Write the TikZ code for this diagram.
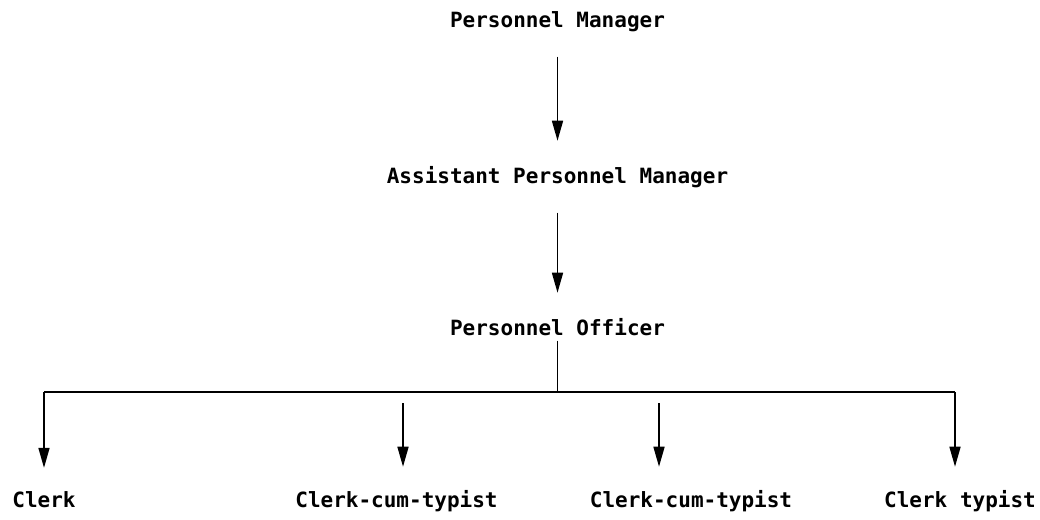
\documentclass[tikz,border=0pt]{standalone}
\usepackage{fontspec}
\newfontfamily\dmono{DejaVu Sans Mono}
\usetikzlibrary{arrows.meta}
\begin{document}
\begin{tikzpicture}[x=1pt,y=-1pt,
  lbl/.style={inner sep=0pt, anchor=base, font=\dmono\bfseries\fontsize{21}{24}\selectfont},
  conn/.style={line width=1.6pt, black},
  arr/.style={conn, -{Triangle[length=20pt,width=11pt]}}]
\useasboundingbox (0,0) rectangle (1040,519);
\node[lbl] (pm)  at (557.5,28)  {Personnel Manager};
\node[lbl] (apm) at (557.5,183) {Assistant Personnel Manager};
\node[lbl] (po)  at (557.5,335) {Personnel Officer};
\node[lbl] (cl)  at (44,507)    {Clerk};
\node[lbl] (c1)  at (396.5,507) {Clerk-cum-typist};
\node[lbl] (c2)  at (691,507)   {Clerk-cum-typist};
\node[lbl] (ct)  at (960,507)   {Clerk typist};
\coordinate (j) at (557.5,392);
\coordinate (lft) at (44,392);
\coordinate (rgt) at (955,392);
\coordinate (s1) at (403,403);
\coordinate (s2) at (659,403);
\draw[arr, shorten <=24pt, shorten >=25pt] (pm.south) -- (apm.north);
\draw[arr, shorten <=25pt, shorten >=25pt] (apm.south) -- (po.north);
\draw[conn, shorten <=5pt] (po.south) -- (j);
\draw[conn, line width=2pt] (lft) -- (rgt);
\draw[arr, shorten >=23pt] (lft) -- (cl.north);
\draw[arr, shorten >=23pt] (rgt) -- (rgt |- ct.north);
\draw[arr, shorten >=23pt] (s1) -- (s1 |- c1.north);
\draw[arr, shorten >=23pt] (s2) -- (s2 |- c2.north);
\end{tikzpicture}
\end{document}
